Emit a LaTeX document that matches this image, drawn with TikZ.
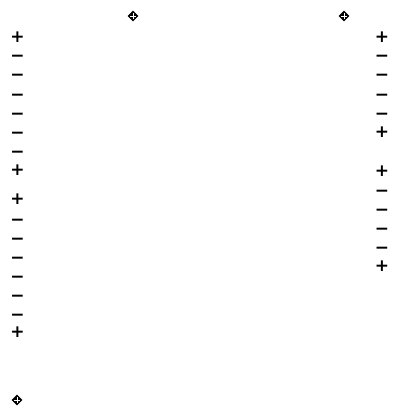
\documentclass[tikz,border=0pt]{standalone}
\usepackage{fontspec}
\setmainfont{DejaVu Sans}
\usetikzlibrary{shapes.geometric}
\tikzset{
  sign/.style={inner sep=0pt, anchor=base, font=\bfseries\fontsize{17}{17}\selectfont},
  gem/.style={diamond, fill=black, minimum width=11pt, minimum height=11pt, inner sep=0pt}
}
\newcommand{\gemmark}[2]{%
  \node[gem] (#1) at #2 {};
  \draw[white, line width=0.9pt] ([xshift=-2.7pt]#1.center) -- ([xshift=2.7pt]#1.center);
  \draw[white, line width=0.9pt] ([yshift=-2.7pt]#1.center) -- ([yshift=2.7pt]#1.center);
}
\begin{document}
\begin{tikzpicture}[x=1pt,y=-1pt]
\useasboundingbox (0,0) rectangle (393,417);
\gemmark{g1}{(133,16)}
\gemmark{g2}{(344,16)}
\gemmark{g3}{(17,400)}
% left column: y/sign/baseline offset
\foreach \y/\s/\o [count=\i] in {37/+/5.5,55/−/7,74/−/7,93/−/7,112/−/7,131/−/7,150/−/7,170/+/5.5,199/+/5.5,218/−/7,237/−/7,256/−/7,275/−/7,294/−/7,313/−/7,332/+/5.5}
  \node[sign] (l\i) at (17.5,\y+\o) {\s};
% right column
\foreach \y/\s/\o [count=\i] in {37/+/5.5,55/−/7,74/−/7,93/−/7,112/−/7,132/+/5.5,171/+/5.5,189/−/7,208/−/7,227/−/7,246/−/7,266/+/5.5}
  \node[sign] (r\i) at (382,\y+\o) {\s};
\end{tikzpicture}
\end{document}
